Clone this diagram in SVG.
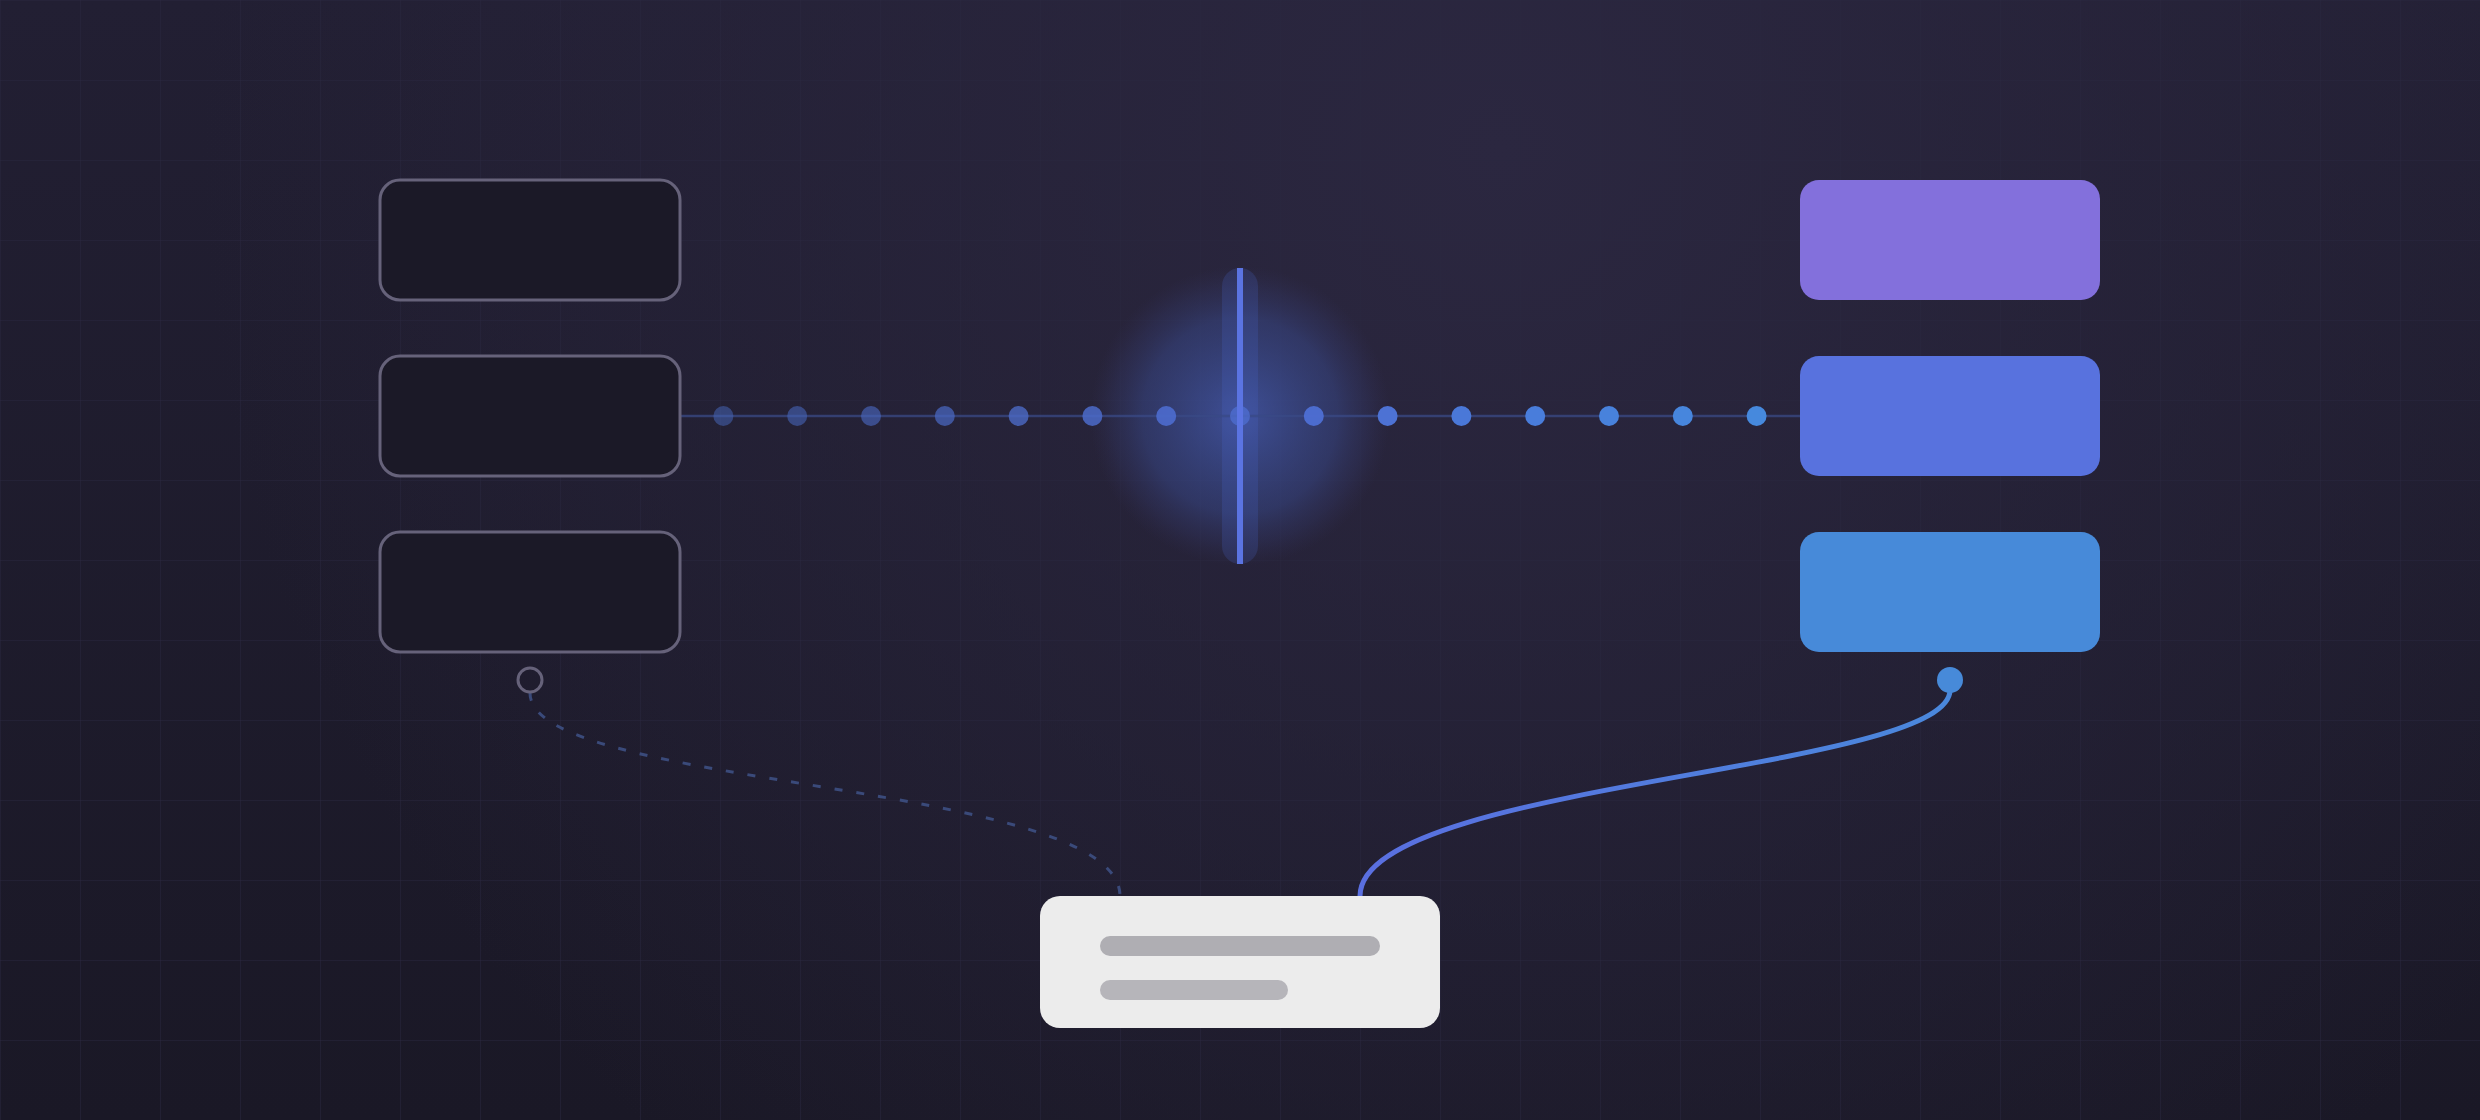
<svg xmlns="http://www.w3.org/2000/svg" width="2480" height="1120" viewBox="0 0 2480 1120">
  <defs>
    <linearGradient id="bg" x1="0" y1="0" x2="0" y2="1">
      <stop offset="0" stop-color="#221f33"/>
      <stop offset="1" stop-color="#1a1826"/>
    </linearGradient>
    <radialGradient id="bglight" cx="1500" cy="150" r="1300" gradientUnits="userSpaceOnUse">
      <stop offset="0" stop-color="#2b2740" stop-opacity="1"/>
      <stop offset="1" stop-color="#2b2740" stop-opacity="0"/>
    </radialGradient>
    <pattern id="grid" width="80" height="80" patternUnits="userSpaceOnUse">
      <path d="M80 0 L0 0 0 80" fill="none" stroke="#2a2840" stroke-width="1"/>
    </pattern>
    <radialGradient id="glow" cx="1240" cy="416" r="150" gradientUnits="userSpaceOnUse">
      <stop offset="0" stop-color="#4d6ad0" stop-opacity="0.62"/>
      <stop offset="0.3" stop-color="#4662c0" stop-opacity="0.5"/>
      <stop offset="0.65" stop-color="#3f56a8" stop-opacity="0.38"/>
      <stop offset="0.85" stop-color="#3a4688" stop-opacity="0.2"/>
      <stop offset="1" stop-color="#383a70" stop-opacity="0"/>
    </radialGradient>
    <linearGradient id="wire" x1="1360" y1="0" x2="1950" y2="0" gradientUnits="userSpaceOnUse">
      <stop offset="0" stop-color="#5a6fe0"/>
      <stop offset="1" stop-color="#4a88dc"/>
    </linearGradient>
  </defs>
  <style>
    .ghost { fill: #1b1927; stroke: #66627a; stroke-width: 3; }
    .dot { stroke: none; }
    .bar { stroke: none; }
  </style>

  <rect width="2480" height="1120" fill="url(#bg)"/>
  <rect width="2480" height="1120" fill="url(#bglight)"/>
  <rect width="2480" height="1120" fill="url(#grid)"/>

  <g id="scanner">
    <circle cx="1240" cy="416" r="150" fill="url(#glow)"/>
    <rect x="1222" y="268" width="36" height="296" rx="18" fill="#4d6ad0" fill-opacity="0.2"/>
  </g>

  <g id="connectors">
    <line x1="680" y1="416" x2="1800" y2="416" stroke="#3a4a86" stroke-width="2.5" stroke-opacity="0.75"/>
    <path d="M530 693 C530 790 1120 780 1120 896" fill="none" stroke="#3a4a7a" stroke-width="3" stroke-dasharray="8 14"/>
    <path d="M1360 896 C1360 782 1950 772 1950 690" fill="none" stroke="url(#wire)" stroke-width="5"/>
  </g>

  <g id="dots">
    <circle class="dot" cx="723.4" cy="416" r="10" fill="#4664b4" fill-opacity="0.55"/>
    <circle class="dot" cx="797.2" cy="416" r="10" fill="#4664b8" fill-opacity="0.6"/>
    <circle class="dot" cx="871" cy="416" r="10" fill="#4866bc" fill-opacity="0.65"/>
    <circle class="dot" cx="944.8" cy="416" r="10" fill="#4a68c2" fill-opacity="0.72"/>
    <circle class="dot" cx="1018.6" cy="416" r="10" fill="#4c6ac6" fill-opacity="0.8"/>
    <circle class="dot" cx="1092.4" cy="416" r="10" fill="#4c6ac8" fill-opacity="0.86"/>
    <circle class="dot" cx="1166.2" cy="416" r="10" fill="#4d6cce" fill-opacity="0.9"/>
    <circle class="dot" cx="1240" cy="416" r="10" fill="#5070d6" fill-opacity="0.7"/>
    <circle class="dot" cx="1313.8" cy="416" r="10" fill="#4e6fd4" fill-opacity="0.95"/>
    <circle class="dot" cx="1387.6" cy="416" r="10" fill="#4d72d4"/>
    <circle class="dot" cx="1461.4" cy="416" r="10" fill="#4a78d8"/>
    <circle class="dot" cx="1535.2" cy="416" r="10" fill="#497ddb"/>
    <circle class="dot" cx="1609" cy="416" r="10" fill="#4882dc"/>
    <circle class="dot" cx="1682.8" cy="416" r="10" fill="#4786dd"/>
    <circle class="dot" cx="1756.6" cy="416" r="10" fill="#4689dd"/>
  </g>

  <g id="scan-line">
    <rect x="1237" y="268" width="6" height="296" fill="#5b74e2"/>
  </g>

  <g id="source-1"><rect class="ghost" x="380" y="180" width="300" height="120" rx="20"/></g>
  <g id="source-2"><rect class="ghost" x="380" y="356" width="300" height="120" rx="20"/></g>
  <g id="source-3"><rect class="ghost" x="380" y="532" width="300" height="120" rx="20"/></g>
  <g id="source-port"><circle cx="530" cy="680" r="12" fill="none" stroke="#66627a" stroke-width="3"/></g>

  <g id="target-1"><rect x="1800" y="180" width="300" height="120" rx="19" fill="#8370dc"/></g>
  <g id="target-2"><rect x="1800" y="356" width="300" height="120" rx="19" fill="#5872de"/></g>
  <g id="target-3"><rect x="1800" y="532" width="300" height="120" rx="19" fill="#478ad9"/></g>
  <g id="target-port"><circle cx="1950" cy="680" r="13" fill="#478ad9"/></g>

  <g id="card">
    <rect x="1040" y="896" width="400" height="132" rx="20" fill="#ececec"/>
    <rect class="bar" x="1100" y="936" width="280" height="20" rx="10" fill="#afaeb3"/>
    <rect class="bar" x="1100" y="980" width="188" height="20" rx="10" fill="#b6b5ba"/>
  </g>
</svg>
